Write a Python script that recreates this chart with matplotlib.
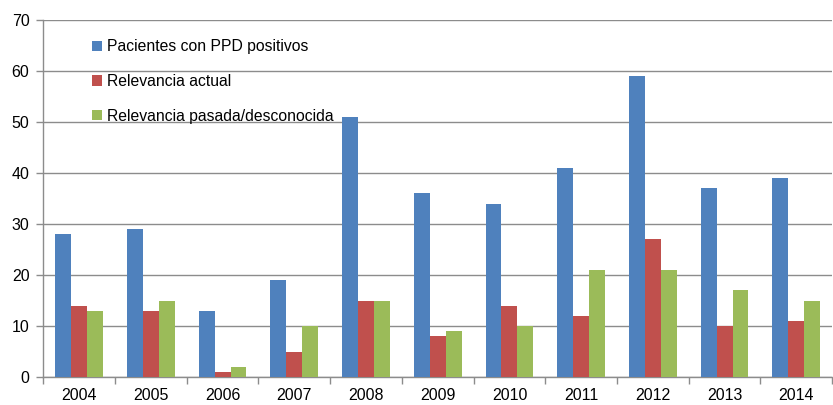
import numpy as np
import matplotlib.pyplot as plt

plt.rcParams['font.family'] = ['Liberation Sans', 'DejaVu Sans']

years = ['2004', '2005', '2006', '2007', '2008', '2009', '2010', '2011', '2012', '2013', '2014']
pacientes = [28, 29, 13, 19, 51, 36, 34, 41, 59, 37, 39]
actual = [14, 13, 1, 5, 15, 8, 14, 12, 27, 10, 11]
pasada = [13, 15, 2, 10, 15, 9, 10, 21, 21, 17, 15]

labels = ['Pacientes con PPD positivos', 'Relevancia actual', 'Relevancia pasada/desconocida']
colors = ['#4F81BD', '#C0504D', '#9BBB59']

fig = plt.figure(figsize=(8.33, 4.05), dpi=100)
ax = fig.add_axes([0.052, 0.069, 0.947, 0.882])

x = np.arange(len(years))
w = 0.222
for i, (vals, lab, col) in enumerate(zip([pacientes, actual, pasada], labels, colors)):
    ax.bar(x + (i - 1) * w, vals, width=w, color=col, label=lab, zorder=3)

ax.set_xlim(-0.5, len(years) - 0.5)
ax.set_ylim(0, 70)
ax.set_yticks(range(0, 71, 10))
ax.yaxis.grid(True, color='#8c8c8c', linewidth=1, zorder=0)

ax.set_xticks(x)
ax.set_xticklabels(years)
ax.set_xticks(np.arange(-0.5, len(years)), minor=True)
ax.tick_params(axis='x', which='major', length=0, pad=8, labelsize=11.5)
ax.tick_params(axis='x', which='minor', length=5, color='#8c8c8c', width=1)
ax.tick_params(axis='y', length=5, color='#8c8c8c', width=1, labelsize=11.5, pad=5)

for s in ['top', 'right']:
    ax.spines[s].set_visible(False)
for s in ['left', 'bottom']:
    ax.spines[s].set_color('#8c8c8c')
    ax.spines[s].set_linewidth(1)

ax.legend(loc='upper left', bbox_to_anchor=(0.044, 0.985), frameon=False, fontsize=11.3,
          handlelength=0.65, handleheight=0.65, handletextpad=0.3, labelspacing=1.25)

fig.savefig('out.png', dpi=100)
